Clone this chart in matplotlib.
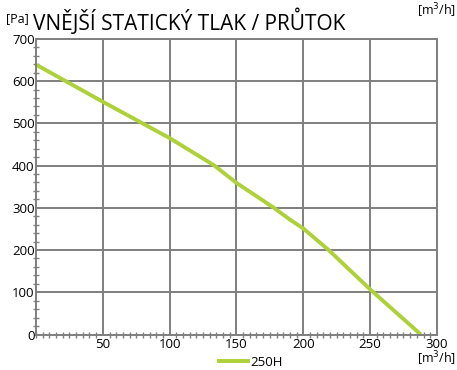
import matplotlib.pyplot as plt
from matplotlib.ticker import MultipleLocator

plt.rcParams['font.family'] = ['Open Sans', 'DejaVu Sans']

## data
flow = [0.5, 50, 100, 133, 150, 178, 190, 200, 219, 250, 288]          # m3/h
pressure = [638, 551, 465, 401, 359, 300, 272, 251, 200, 107, 0]      # Pa
series_name = '250H'
title = 'VNĚJŠÍ STATICKÝ TLAK / PRŮTOK'
x_ticks = [50, 100, 150, 200, 250, 300]
y_ticks = [0, 100, 200, 300, 400, 500, 600, 700]

grey = '#7f7f7f'
green = '#aed13a'

fig = plt.figure(figsize=(4.57, 3.70), dpi=100)
ax = fig.add_axes([0.0788, 0.0959, 0.8772, 0.7992])

ax.plot(flow, pressure, color=green, lw=2.8, solid_capstyle='butt')

ax.set_xlim(0, 300)
ax.set_ylim(0, 700)
ax.set_xticks(x_ticks)
ax.set_yticks(y_ticks)
ax.xaxis.set_minor_locator(MultipleLocator(5))
ax.yaxis.set_minor_locator(MultipleLocator(20))
ax.grid(True, which='major', color=grey, lw=1.4)
for s in ax.spines.values():
    s.set_color(grey)
    s.set_linewidth(1.4)
ax.tick_params(which='both', direction='inout', color=grey, width=1,
               labelsize=9.5, pad=1)
ax.tick_params(which='major', length=0)
ax.tick_params(which='minor', length=5)
ax.tick_params(axis='x', which='major', length=0, pad=2.5)

fig.text(0.072, 0.905, title, fontsize=15, ha='left', va='bottom')
fig.text(0.013, 0.95, '[Pa]', fontsize=9, ha='left', va='center')
fig.text(0.997, 0.997, '[m$^3$/h]', fontsize=9, ha='right', va='top')
fig.text(0.997, 0.005, '[m$^3$/h]', fontsize=9, ha='right', va='bottom')

# legend below the plot
fig.legend([ax.lines[0]], [series_name], loc='center left', frameon=False,
           bbox_to_anchor=(0.474, 0.02), fontsize=9.5, handlelength=2.5,
           handletextpad=0.05, borderaxespad=0, borderpad=0)

fig.savefig('out.png', dpi=100)
